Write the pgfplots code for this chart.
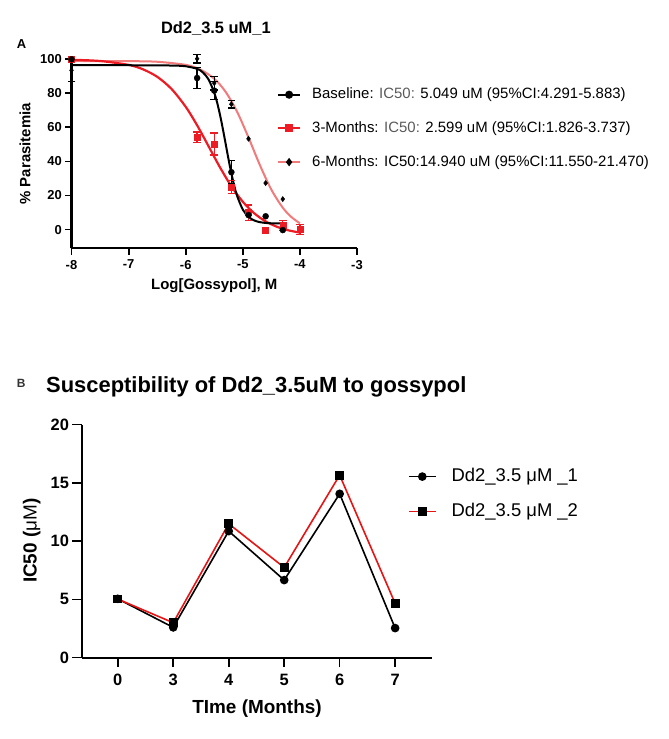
\documentclass[border=0pt]{standalone}
\usepackage{pgfplots}
\pgfplotsset{compat=1.18}
\usepackage{fontspec}
\setmainfont{Liberation Sans}
\definecolor{gpred}{RGB}{237,28,36}
\definecolor{gppink}{RGB}{242,122,122}
\definecolor{lnred}{RGB}{232,20,20}
\definecolor{icgray}{RGB}{90,90,90}

\begin{document}
\begin{tikzpicture}[x=1bp,y=1bp]
\path[use as bounding box] (0,0) rectangle (669,739);

% ---------------- Panel A ----------------
\begin{axis}[
  at={(71.5bp,490.7bp)}, anchor=south west,
  scale only axis, width=285.5bp, height=189bp,
  xmin=-8, xmax=-3, ymin=-11, ymax=100,
  axis lines=left, axis line style={-, line width=2.2bp},
  tick align=outside, major tick length=6.5bp,
  tick style={line width=1.8bp, black},
  xtick={-8,-7,-6,-5,-4,-3}, xticklabels={-8,-7,-6,-5,-4,-3},
  ytick={0,20,40,60,80,100},
  /pgf/number format/assume math mode=true,
  ticklabel style={font=\bfseries\fontsize{13}{13}\selectfont, inner sep=0pt},
  xticklabel style={yshift=-5bp},
  yticklabel style={xshift=-3bp},
  xlabel={Log[Gossypol], M}, ylabel={\% Parasitemia},
  label style={font=\bfseries\fontsize{15}{15}\selectfont, inner sep=0pt},
  xlabel style={at={(axis description cs:0.5,-0.2206)}, anchor=base},
  ylabel style={at={(axis description cs:-0.1629,0.5)}, anchor=center},
  clip=false,
  legend style={draw=none, fill=none, at={(axis description cs:0.7198,0.8497)}, anchor=north west,
    inner sep=0pt, outer sep=0pt, font=\fontsize{15}{15}\selectfont,
    nodes={inner sep=0pt, text height=11bp, text depth=3bp},
    row sep=19.7bp, column sep=11bp},
  legend cell align=left,
  legend image code/.code={\draw[#1, mark repeat=2, mark phase=2] plot coordinates {(0bp,0bp) (11bp,0bp) (22bp,0bp)};},
  error bars/error bar style={line width=1.3bp},
  error bars/error mark options={line width=1.3bp, mark size=3.8bp, rotate=90},
]
% fitted curves
\addplot[gppink, line width=2bp, smooth, forget plot] coordinates {
 (-8,99.0) (-7,98.9) (-6.5,98.54) (-6,96.74) (-5.75,94.07) (-5.5,88.58) (-5.3,80.83) (-5.1,69.19)
 (-4.9,54.05) (-4.7,37.8) (-4.5,23.44) (-4.3,12.83) (-4.15,7.38) (-4,3.66)};
\addplot[gpred, line width=2.2bp, smooth, forget plot] coordinates {
 (-8,99.70) (-7.5,99.0) (-7,96.71) (-6.75,94.13) (-6.5,89.74) (-6.25,82.64) (-6,72.10) (-5.8,61.23)
 (-5.6,48.95) (-5.4,36.56) (-5.2,25.41) (-5,16.33) (-4.8,9.56) (-4.6,4.81) (-4.4,1.61) (-4.2,-0.47) (-4,-1.79)};
\addplot[black, line width=2bp, smooth, forget plot] coordinates {
 (-8,96.5) (-7,96.5) (-6.5,96.4) (-6.2,96.3) (-6,95.9) (-5.8,94.4) (-5.7,92.3) (-5.6,88.2) (-5.5,80.4)
 (-5.45,74.6) (-5.4,67.5) (-5.35,59.2) (-5.3,50.3) (-5.25,41.3) (-5.2,33.0) (-5.15,25.7) (-5.1,19.8)
 (-5,11.74) (-4.9,7.45) (-4.8,5.35) (-4.7,4.35) (-4.6,3.89) (-4.5,3.68) (-4.35,3.56)};
% 6-Months points
\addplot[black, only marks, mark=diamond*, mark size=2.6bp, forget plot,
  error bars/.cd, y dir=both, y explicit] table[x=x, y=y, y error=e] {
x y e
-8 93.5 6.4
-5.8 100.3 2.5
-5.5 86 4
-5.2 73.6 2.2
};
\addplot[black, only marks, mark=diamond*, mark size=2.6bp, forget plot] table[x=x, y=y] {
x y
-4.9 53.3
-4.6 27.3
-4.3 17.9
-4 0.5
};
% 3-Months points
\addplot[gpred, only marks, mark=square*, mark size=3bp, forget plot,
  error bars/.cd, y dir=both, y explicit] table[x=x, y=y, y error=e] {
x y e
-5.8 54.3 3
-5.5 50.2 6.5
-5.2 25 4
-4.9 10 4.5
-4.3 2.5 3
-4 0 3
};
\addplot[gpred, only marks, mark=square*, mark size=3bp, forget plot] table[x=x, y=y] {
x y
-8 100
-4.6 -0.5
};
% Baseline points
\addplot[black, only marks, mark=*, mark size=3bp, forget plot,
  error bars/.cd, y dir=both, y explicit] table[x=x, y=y, y error=e] {
x y e
-5.8 89 6.3
-5.5 81.6 5.3
-5.2 33.7 7
};
\addplot[black, only marks, mark=*, mark size=3bp, forget plot] table[x=x, y=y] {
x y
-8 100
-4.9 8.5
-4.6 7.8
-4.3 -0.3
};
\addlegendimage{black, line width=2bp, mark=*, mark size=3bp}
\addlegendentry{Baseline: \textcolor{icgray}{IC50:} 5.049 uM (95\%CI:4.291-5.883)}
\addlegendimage{gpred, line width=2.2bp, mark=square*, mark size=3bp}
\addlegendentry{3-Months: \textcolor{icgray}{IC50:} 2.599 uM (95\%CI:1.826-3.737)}
\addlegendimage{gppink, line width=2bp, mark=diamond*, mark size=2.6bp, mark options={black, fill=black}}
\addlegendentry{6-Months: IC50:14.940 uM (95\%CI:11.550-21.470)}
\end{axis}

% ---------------- Panel B ----------------
\begin{axis}[
  at={(81.7bp,81.3bp)}, anchor=south west,
  scale only axis, width=350.6bp, height=233.1bp,
  xmin=-0.65, xmax=5.67, ymin=0, ymax=20,
  axis lines=left, axis line style={-, line width=1.7bp},
  tick align=outside, major tick length=9.5bp,
  tick style={line width=1.6bp, black},
  xtick={0,1,2,3,4,5}, xticklabels={0,3,4,5,6,7},
  ytick={0,5,10,15,20},
  /pgf/number format/assume math mode=true,
  ticklabel style={font=\bfseries\fontsize{16.5}{16.5}\selectfont, inner sep=0pt},
  xticklabel style={yshift=-7bp},
  yticklabel style={xshift=-3bp},
  xlabel={TIme (Months)}, ylabel={IC50 ({\mdseries μM})},
  label style={font=\bfseries\fontsize{19}{19}\selectfont, inner sep=0pt},
  xlabel style={at={(axis description cs:0.5,-0.2415)}, anchor=base},
  ylabel style={at={(axis description cs:-0.1426,0.502)}, anchor=center},
  clip=false,
  legend style={draw=none, fill=none, at={(axis description cs:0.9307,0.8155)}, anchor=north west,
    inner sep=0pt, outer sep=0pt, font=\fontsize{18.5}{18.5}\selectfont,
    nodes={inner sep=0pt, text height=14bp, text depth=4bp},
    row sep=17bp, column sep=15bp},
  legend cell align=left,
  legend image code/.code={\draw[#1, mark repeat=2, mark phase=2] plot coordinates {(0bp,0bp) (13.5bp,0bp) (27bp,0bp)};},
]
\addplot[black, line width=1.6bp, mark=*, mark size=3.5bp] table[x=i, y=v] {
i v
0 5.05
1 2.6
2 10.86
3 6.66
4 14.06
5 2.54
};
\addlegendentry{Dd2\_3.5 μM \_1}
\addplot[lnred, line width=1.6bp, mark=square*, mark size=3.6bp, mark options={black, fill=black}] table[x=i, y=v] {
i v
0 5.03
1 3.0
2 11.49
3 7.74
4 15.66
5 4.66
};
\addlegendentry{Dd2\_3.5 μM \_2}
\end{axis}

% titles and panel letters
\node[anchor=base, inner sep=0pt, font=\bfseries\fontsize{16.5}{16.5}\selectfont] at (215.9,705.7) {Dd2\_3.5 uM\_1};
\node[anchor=base west, inner sep=0pt, font=\bfseries\fontsize{13}{13}\selectfont] at (16.7,690.5) {A};
\node[anchor=base west, inner sep=0pt, font=\bfseries\fontsize{22}{22}\selectfont] at (46,346) {Susceptibility of Dd2\_3.5uM to gossypol};
\node[anchor=base west, inner sep=0pt, font=\bfseries\fontsize{12}{12}\selectfont, text=black!80] at (16.7,351.7) {B};
\end{tikzpicture}
\end{document}
